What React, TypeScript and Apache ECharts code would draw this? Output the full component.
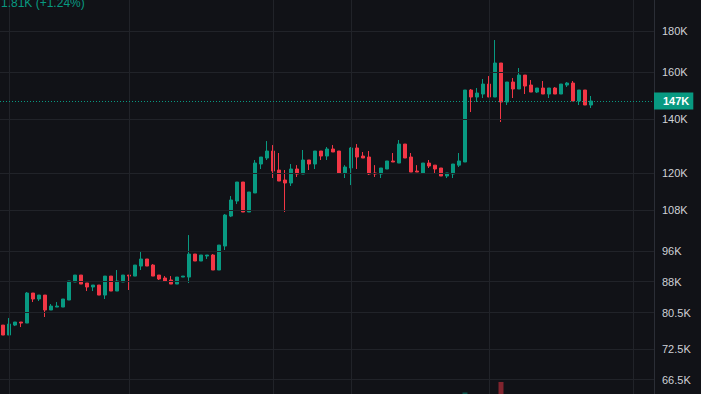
import React, { useEffect, useRef } from "react";
import * as echarts from "echarts";

// Weekly candles (prices in thousands)
const opens = [77.71, 75.53, 77.71, 78.39, 78.16, 85.16, 83.72, 84.67, 81.13, 81.82, 81.82, 83.48, 87.89, 89.65, 87.63, 86.64, 87.13, 84.67, 89.39, 85.65, 87.89, 89.65, 89.39, 91.99, 93.86, 92.25, 89.65, 88.9, 88.39, 87.38, 89.14, 89.14, 95.2, 93.32, 94.66, 94.93, 90.95, 97.4, 106.11, 110.77, 116.95, 107.34, 113.34, 123.12, 125.25, 127.78, 121.03, 117.62, 116.62, 121.38, 119.66, 124.54, 123.12, 127.78, 125.96, 128.52, 127.78, 120.0, 121.73, 128.89, 125.96, 125.61, 120.0, 119.66, 121.38, 124.19, 123.47, 130.35, 125.61, 120.68, 120.0, 123.47, 122.73, 121.73, 118.97, 119.66, 122.73, 123.83, 152.11, 149.1, 150.38, 154.73, 149.1, 164.31, 146.99, 155.63, 152.55, 158.76, 154.29, 151.24, 152.98, 150.38, 152.98, 150.38, 154.29, 155.18, 147.41, 152.11, 145.73];
const highs = [77.71, 79.29, 78.39, 78.39, 85.41, 85.16, 84.67, 84.67, 82.53, 83.0, 83.72, 88.14, 89.65, 89.65, 87.63, 87.13, 87.13, 89.39, 89.39, 90.95, 89.65, 89.65, 92.25, 95.75, 93.86, 92.51, 89.65, 89.39, 89.39, 89.14, 89.39, 100.5, 95.2, 94.93, 94.93, 95.2, 97.67, 106.72, 112.36, 116.95, 116.95, 113.66, 124.54, 125.61, 131.48, 129.98, 127.05, 121.03, 123.12, 122.73, 128.15, 124.54, 127.78, 127.78, 129.25, 129.98, 127.78, 122.73, 129.25, 130.35, 127.42, 127.78, 122.73, 121.73, 124.19, 127.05, 131.86, 130.35, 127.05, 122.73, 123.47, 124.54, 122.73, 121.73, 120.0, 123.12, 127.05, 152.11, 152.55, 152.98, 156.97, 158.31, 175.47, 164.31, 155.63, 157.42, 161.98, 158.76, 156.52, 152.98, 156.07, 152.98, 153.42, 154.73, 155.63, 156.07, 152.11, 152.11, 149.53];
const lows = [75.53, 75.53, 77.49, 77.27, 78.16, 83.0, 83.24, 79.52, 81.13, 81.82, 81.82, 83.48, 87.89, 87.38, 85.65, 85.65, 84.67, 83.72, 85.65, 85.65, 87.89, 85.9, 89.39, 90.95, 91.99, 89.39, 88.39, 88.14, 87.38, 87.38, 89.14, 87.63, 93.32, 93.32, 93.86, 90.95, 90.95, 96.3, 105.81, 109.82, 107.34, 107.34, 113.34, 121.38, 124.54, 118.29, 117.28, 107.34, 115.63, 118.63, 119.66, 121.03, 121.38, 124.54, 124.54, 127.42, 120.0, 118.29, 115.94, 121.38, 125.25, 119.32, 118.63, 118.29, 121.38, 123.83, 123.47, 125.25, 120.34, 120.34, 120.0, 121.73, 120.0, 118.97, 118.29, 118.29, 122.07, 123.83, 142.84, 146.99, 148.68, 149.1, 149.1, 138.82, 145.73, 148.68, 152.55, 150.38, 151.24, 150.81, 150.38, 148.68, 150.38, 150.38, 153.42, 147.41, 145.73, 145.73, 144.49];
const closes = [75.53, 77.94, 78.39, 78.16, 85.16, 83.72, 84.67, 81.13, 82.05, 82.05, 83.72, 88.14, 89.65, 87.38, 86.64, 87.13, 84.67, 89.39, 85.65, 88.14, 89.65, 89.39, 92.25, 93.86, 91.99, 89.39, 88.64, 88.14, 87.38, 89.14, 89.39, 95.2, 93.32, 94.93, 94.93, 90.95, 97.67, 106.42, 111.09, 116.95, 107.34, 113.66, 123.47, 125.61, 127.78, 120.68, 117.28, 116.62, 121.38, 119.66, 124.54, 123.12, 127.78, 125.96, 128.52, 127.42, 120.0, 122.07, 128.89, 125.61, 125.25, 119.66, 119.66, 121.73, 124.19, 123.83, 130.35, 125.25, 120.34, 120.34, 123.47, 122.42, 121.38, 118.97, 120.0, 123.12, 124.19, 152.11, 149.1, 150.81, 154.73, 149.1, 164.31, 146.99, 155.63, 152.55, 158.76, 153.85, 151.24, 152.98, 150.38, 152.98, 150.38, 154.73, 155.18, 147.41, 152.11, 145.73, 147.41];

// 109 weekly slots (the last ones are empty right margin)
const categories = Array.from({ length: 109 }, (_, i) => `W${i + 1}`);

// visible volume bars only (the rest lies below the cropped area)
const volumePoints: [string, number, boolean][] = [
  ["W78", 1.6, true],
  ["W84", 12.8, false],
];

const tickValues = [180, 160, 140, 120, 108, 96, 88, 80.5, 72.5, 66.5];
const tickLabels = ["180K", "160K", "140K", "120K", "108K", "96K", "88K", "80.5K", "72.5K", "66.5K"];
const timeGridCats = ["W2", "W22", "W46", "W59", "W82", "W106"];

const lastPrice = 147.41;
const lastPriceLabel = "147K";
const headerText = "1.81K (+1.24%)";

const UP = "#089981";
const DOWN = "#f23645";
const BG = "#111217";
const GRID = "#212329";
const AXIS = "#2b2e36";
const TEXT = "#cfd1d6";
const FONT = "'Liberation Sans', Arial, sans-serif";

export default function App() {
  const ref = useRef<HTMLDivElement>(null);

  useEffect(() => {
    if (!ref.current) return;
    const chart = echarts.init(ref.current, undefined, { renderer: "svg" });

    const candleData = opens.map((o, i) => [o, closes[i], lows[i], highs[i]]);

    const gridLineData: any[] = [
      ...timeGridCats.map((c) => ({ xAxis: c, label: { show: false } })),
      ...tickValues.map((v, i) => ({
        yAxis: v,
        label: {
          show: true,
          position: "end",
          distance: 8,
          formatter: tickLabels[i],
          color: TEXT,
          fontSize: 11,
          fontFamily: FONT,
        },
      })),
    ];

    chart.setOption({
      animation: false,
      backgroundColor: BG,
      textStyle: { fontFamily: FONT },
      grid: [
        { left: 0, right: 47, top: 0, bottom: 0 },
        { left: 0, right: 47, top: 300, bottom: 0 },
      ],
      xAxis: [
        {
          type: "category",
          data: categories,
          gridIndex: 0,
          boundaryGap: true,
          axisLine: { show: false },
          axisTick: { show: false },
          axisLabel: { show: false },
          splitLine: { show: false },
        },
        {
          type: "category",
          data: categories,
          gridIndex: 1,
          show: false,
        },
      ],
      yAxis: [
        {
          type: "log",
          logBase: 10,
          gridIndex: 0,
          position: "right",
          min: 63.82,
          max: 196.73,
          axisLine: { show: true, lineStyle: { color: AXIS, width: 1 } },
          axisTick: { show: false },
          axisLabel: { show: false },
          splitLine: { show: false },
        },
        {
          type: "value",
          gridIndex: 1,
          min: 0,
          max: 100,
          show: false,
          splitLine: { show: false },
        },
      ],
      graphic: [
        {
          type: "text",
          x: 1,
          y: 3,
          z: 100,
          style: {
            text: headerText,
            fill: UP,
            font: `12px ${FONT}`,
            verticalAlign: "middle",
            align: "left",
          },
        },
      ],
      series: [
        {
          type: "line",
          xAxisIndex: 0,
          yAxisIndex: 0,
          data: [],
          z: 1,
          silent: true,
          markLine: {
            silent: true,
            symbol: ["none", "none"],
            animation: false,
            lineStyle: { color: GRID, width: 1, type: "solid" },
            data: gridLineData,
          },
        },
        {
          type: "bar",
          xAxisIndex: 1,
          yAxisIndex: 1,
          barWidth: 5,
          z: 2,
          data: volumePoints.map(([c, v, up]) => ({
            value: [c, v],
            itemStyle: { color: up ? UP : DOWN, opacity: 0.5 },
          })),
        },
        {
          type: "candlestick",
          xAxisIndex: 0,
          yAxisIndex: 0,
          barWidth: 4,
          z: 3,
          data: candleData,
          itemStyle: {
            color: UP,
            color0: DOWN,
            borderColor: UP,
            borderColor0: DOWN,
            borderWidth: 1,
          },
          markLine: {
            silent: true,
            symbol: ["none", "none"],
            animation: false,
            lineStyle: { color: UP, width: 1, type: [1, 2] },
            data: [
              {
                yAxis: lastPrice,
                label: {
                  show: true,
                  position: "end",
                  distance: 0,
                  formatter: lastPriceLabel,
                  color: "#ffffff",
                  fontWeight: "bold",
                  fontSize: 11,
                  fontFamily: FONT,
                  backgroundColor: UP,
                  padding: [3, 4, 3, 9],
                },
              },
            ],
          },
        },
      ],
    });

    return () => chart.dispose();
  }, []);

  return (
    <div
      ref={ref}
      style={{ position: "fixed", left: 0, top: 0, width: 701, height: 394 }}
    />
  );
}
